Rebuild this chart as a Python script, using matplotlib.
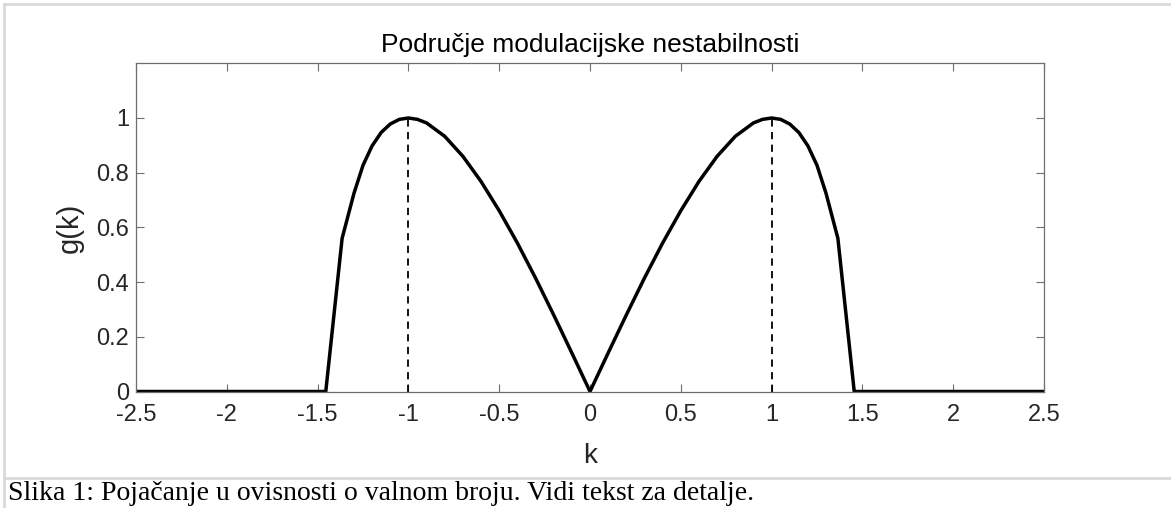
import matplotlib
matplotlib.use("Agg")
import matplotlib.pyplot as plt
from matplotlib.lines import Line2D

# Data
k_values = [-2.5, -1.455, -1.365, -1.3, -1.25, -1.2, -1.15, -1.1, -1.05, -1.0,
            -0.95, -0.9, -0.8, -0.7, -0.6, -0.5, -0.4, -0.3, -0.2, -0.1, 0.0,
            0.1, 0.2, 0.3, 0.4, 0.5, 0.6, 0.7, 0.8, 0.9, 0.95,
            1.0, 1.05, 1.1, 1.15, 1.2, 1.25, 1.3, 1.365, 1.455, 2.5]
g_values = [0.0, 0.0, 0.56, 0.724, 0.827, 0.898, 0.947, 0.978, 0.995, 1.0,
            0.995, 0.982, 0.933, 0.860, 0.768, 0.661, 0.543, 0.415, 0.280, 0.141, 0.0,
            0.141, 0.280, 0.415, 0.543, 0.661, 0.768, 0.860, 0.933, 0.982, 0.995,
            1.0, 0.995, 0.978, 0.947, 0.898, 0.827, 0.724, 0.56, 0.0, 0.0]
peak_k = [-1.0, 1.0]
peak_g = [1.0, 1.0]
x_ticks = [-2.5, -2, -1.5, -1, -0.5, 0, 0.5, 1, 1.5, 2, 2.5]
x_tick_labels = ["-2.5", "-2", "-1.5", "-1", "-0.5", "0", "0.5", "1", "1.5", "2", "2.5"]
y_ticks = [0, 0.2, 0.4, 0.6, 0.8, 1]
y_tick_labels = ["0", "0.2", "0.4", "0.6", "0.8", "1"]
title_text = "Područje modulacijske nestabilnosti"
x_label = "k"
y_label = "g(k)"
caption = "Slika 1: Pojačanje u ovisnosti o valnom broju. Vidi tekst za detalje."

W, H = 1171, 508
fig = plt.figure(figsize=(W / 100, H / 100), dpi=100)
fig.patch.set_facecolor("white")

left, right, top, bottom = 136, 1044, 63.3, 391.5
ax = fig.add_axes([left / W, 1 - bottom / H, (right - left) / W, (bottom - top) / H])

ax.plot(k_values, g_values, color="black", linewidth=2.5, solid_joinstyle="round")
for kp, gp in zip(peak_k, peak_g):
    ax.plot([kp, kp], [0, gp], color="black", linewidth=1.3, linestyle=(0, (4, 3)))

ax.set_xlim(-2.5, 2.5)
ax.set_ylim(0, 1.2)
ax.set_xticks(x_ticks)
ax.set_xticklabels(x_tick_labels)
ax.set_yticks(y_ticks)
ax.set_yticklabels(y_tick_labels)

font = "Liberation Sans"
spine_col = "#6e6e6e"
for s in ax.spines.values():
    s.set_color(spine_col)
    s.set_linewidth(0.9)
ax.tick_params(direction="in", length=6, width=0.8, color=spine_col,
               top=True, right=True, labelsize=17, labelcolor="#262626")
ax.tick_params(axis="x", pad=9)
ax.tick_params(axis="y", pad=5)
for lbl in ax.get_xticklabels() + ax.get_yticklabels():
    lbl.set_fontfamily(font)

fig.text((left + right) / 2 / W, 1 - 45 / H, title_text, fontsize=19, fontfamily=font,
         color="black", ha="center", va="center")
ax.set_xlabel(x_label, fontsize=20, fontfamily=font, color="#262626")
ax.set_ylabel(y_label, fontsize=21, fontfamily=font, color="#262626")
ax.xaxis.set_label_coords(0.5, -(456 - bottom) / (bottom - top))
ax.xaxis.label.set_va("center")
ax.yaxis.set_label_coords((70 - left) / (right - left), 0.5)
ax.yaxis.label.set_va("center")

# Figure frame and caption
frame_col = "#d9d9d9"
fig.add_artist(Line2D([4 / W, 4 / W], [0, 1 - 4 / H], transform=fig.transFigure,
                      color=frame_col, linewidth=2))
fig.add_artist(Line2D([4 / W, 1], [1 - 4 / H, 1 - 4 / H], transform=fig.transFigure,
                      color=frame_col, linewidth=2))
fig.add_artist(Line2D([4 / W, 1], [1 - 478 / H, 1 - 478 / H], transform=fig.transFigure,
                      color=frame_col, linewidth=2))
fig.text(8 / W, 1 - 494 / H, caption, fontsize=20, fontfamily="Liberation Serif",
         color="black", va="center", ha="left")

fig.savefig("out.png", dpi=100)
